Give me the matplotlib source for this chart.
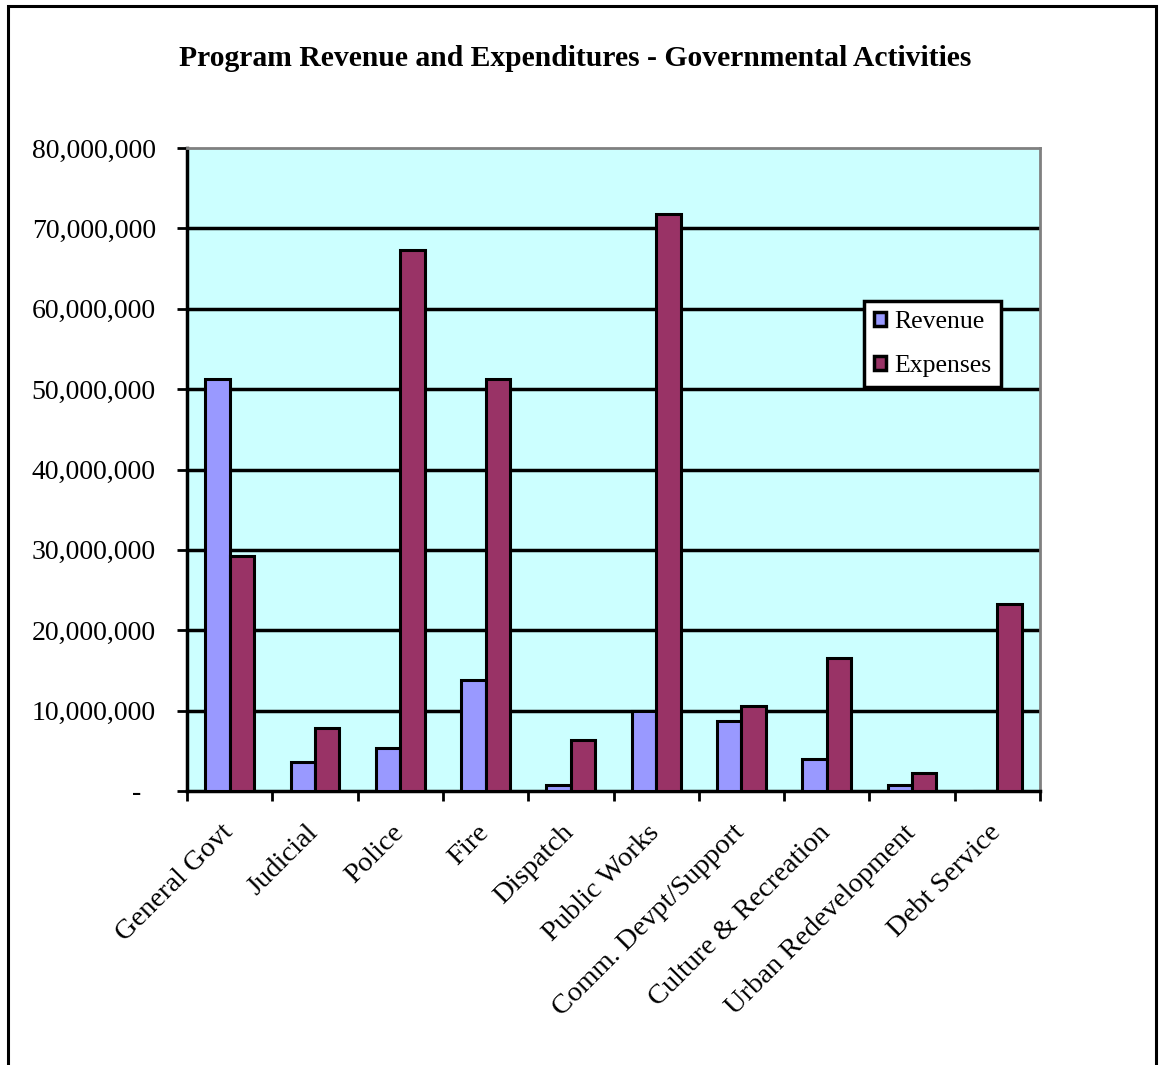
import matplotlib
matplotlib.use("Agg")
import matplotlib.pyplot as plt
from matplotlib.patches import Patch, Rectangle
import numpy as np

# Data
categories = ["General Govt", "Judicial", "Police", "Fire", "Dispatch", "Public Works",
              "Comm. Devpt/Support", "Culture & Recreation", "Urban Redevelopment", "Debt Service"]
revenue = [51.3e6, 3.6e6, 5.3e6, 13.8e6, 0.7e6, 10.0e6, 8.7e6, 4.0e6, 0.75e6, 0]
expenses = [29.2e6, 7.8e6, 67.3e6, 51.3e6, 6.4e6, 71.8e6, 10.6e6, 16.5e6, 2.3e6, 23.3e6]
series_names = ["Revenue", "Expenses"]
y_ticks = [0, 10e6, 20e6, 30e6, 40e6, 50e6, 60e6, 70e6, 80e6]

plt.rcParams['font.family'] = ['Liberation Serif', 'DejaVu Serif']

W, H = 1160, 1065
fig = plt.figure(figsize=(W / 100, H / 100), dpi=100)
fig.patch.set_facecolor("white")

# chart area border (bottom runs off the image)
fig.add_artist(Rectangle((8 / W, -0.05), 1148 / W, 1.05 - 6 / H, transform=fig.transFigure,
                         fill=False, edgecolor="black", linewidth=2.2))

ax = fig.add_axes([187 / W, 1 - 791 / H, (1040 - 187) / W, (791 - 148) / H])
ax.set_facecolor("#CCFFFF")

x = np.arange(len(categories))
w = 1 / 3.5
ax.bar(x - w / 2, revenue, width=w, color="#9999FF", edgecolor="black", linewidth=2.2,
       label=series_names[0], zorder=3)
ax.bar(x + w / 2, expenses, width=w, color="#993366", edgecolor="black", linewidth=2.2,
       label=series_names[1], zorder=3)

for yv in y_ticks[1:-1]:
    ax.axhline(yv, color="black", linewidth=2.5, zorder=1)

ax.set_xlim(-0.5, len(categories) - 0.5)
ax.set_ylim(0, 80e6)

ax.set_yticks(y_ticks)
ax.set_yticklabels([f"{v:,.0f}" if v else "-  " for v in y_ticks], fontsize=20)
ax.tick_params(axis="y", direction="out", length=7.5, width=2, pad=15)

ax.set_xticks(np.arange(len(categories) + 1) - 0.5)
ax.set_xticklabels([])
ax.tick_params(axis="x", direction="out", length=7, width=2)
for i, c in enumerate(categories):
    ax.annotate(c, xy=(i, 0), xycoords=("data", "axes fraction"), xytext=(6, -21),
                textcoords="offset points", rotation=45, ha="right", va="top",
                fontsize=20.5)

for s in ["left", "bottom"]:
    ax.spines[s].set_color("black")
    ax.spines[s].set_linewidth(2.5)
for s in ["top", "right"]:
    ax.spines[s].set_color("#808080")
    ax.spines[s].set_linewidth(2)

fig.text(575 / W, 1 - 58 / H, "Program Revenue and Expenditures - Governmental Activities",
         ha="center", va="center", fontsize=21.3, fontweight="bold")

handles = [Patch(facecolor="#9999FF", edgecolor="black", linewidth=2.5),
           Patch(facecolor="#993366", edgecolor="black", linewidth=2.5)]
leg = fig.legend(handles, series_names, loc="upper left", bbox_to_anchor=(864 / W, 1 - 301 / H),
                 bbox_transform=fig.transFigure, fontsize=18.5, frameon=True, fancybox=False,
                 framealpha=1, edgecolor="black", handlelength=0.47, handleheight=0.47,
                 handletextpad=0.3, labelspacing=0.85, borderpad=0.4, borderaxespad=0)
leg.get_frame().set_linewidth(2.5)

fig.savefig("out.png", dpi=100)
